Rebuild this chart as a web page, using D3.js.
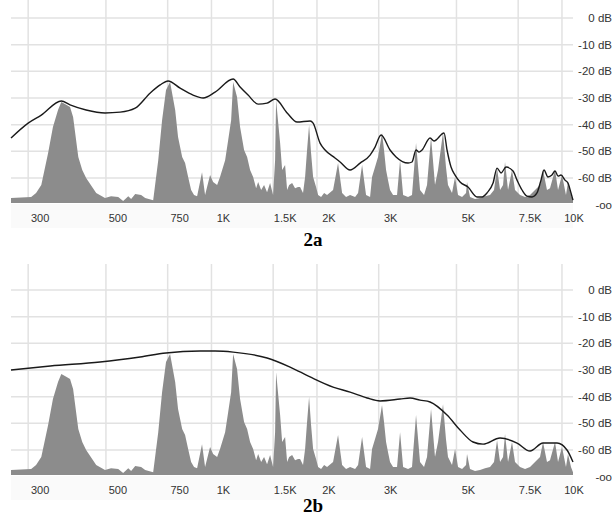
<!DOCTYPE html>
<html>
<head>
<meta charset="utf-8">
<script src="https://cdn.jsdelivr.net/npm/d3@7"></script>
<style>
  body { margin: 0; background: #fff; }
  svg { display: block; }
  .tick-label { font-family: "Liberation Sans", Arial, sans-serif; font-size: 11px; fill: #333; }
  .y-label { font-size: 11.5px; }
  .caption { font-family: "Liberation Serif", "Times New Roman", serif; font-size: 19px; font-weight: bold; fill: #000; }
</style>
</head>
<body>
<div id="chart"></div>
<script>
// ---------- data ----------
const xTicks = [300, 500, 750, 1000, 1500, 2000, 3000, 5000, 7500, 10000];
const xTickLabels = ["300", "500", "750", "1K", "1.5K", "2K", "3K", "5K", "7.5K", "10K"];
const yTicks = [0, -10, -20, -30, -40, -50, -60];
const yTickLabels = ["0 dB", "-10 dB", "-20 dB", "-30 dB", "-40 dB", "-50 dB", "-60 dB"];
const floorLabel = "-oo";

// spectrum (same in both panels)
const specHz = [268, 306, 316, 327, 342, 353, 365, 373, 383, 395, 403, 417, 428, 439, 469, 497, 517, 542, 560, 579,
  590, 606, 630, 647, 682, 705, 723, 742, 762, 788, 803, 825, 841, 858, 875, 892, 910, 940, 959, 991,
  1011, 1038, 1058, 1094, 1116, 1138, 1153, 1183, 1207, 1239, 1264, 1289, 1315, 1341, 1359, 1386, 1413, 1441, 1470, 1499,
  1519, 1529, 1570, 1591, 1622, 1644, 1666, 1699, 1732, 1766, 1790, 1825, 1850, 1874, 1899, 1924, 1950, 1988, 2015, 2055,
  2096, 2137, 2223, 2297, 2359, 2421, 2486, 2569, 2620, 2690, 2761, 2835, 2872, 2929, 2987, 3027, 3066, 3107, 3149, 3190,
  3232, 3297, 3384, 3452, 3522, 3638, 3734, 3834, 3936, 4041, 4121, 4231, 4343, 4430, 4578, 4667, 4730, 4856, 4954, 5052,
  5187, 5325, 5359, 5466, 5648, 5837, 6032, 6233, 6399, 6528, 6658, 6790, 6879, 7016, 7203, 7346, 7592, 7846, 8107, 8378,
  8657, 8829, 9063, 9243, 9554, 9744, 10002, 10267, 10403, 10610, 10751];
const specDb = [-67.5, -67.1, -65.6, -62.6, -50.6, -40.9, -34.5, -31.5, -32.3, -33.4, -37.1, -52.1, -57, -60, -65.6, -67.5, -66.8, -67.1, -68.6, -66.8,
  -67.9, -66, -66.4, -67.5, -68.3, -53.3, -38.3, -27, -24, -34.5, -44.6, -52.1, -54.4, -59.6, -64.5, -66.4, -66.8, -57.8, -66.4, -58.9,
  -61.5, -62.6, -59.6, -53.3, -45.8, -38.3, -24, -29.6, -40.9, -49.5, -52.1, -57, -59.6, -63.8, -61.5, -64.5, -62.6, -65.3, -61.9, -66.4,
  -53.3, -30.8, -46.9, -57, -55.1, -64.5, -62.6, -61.9, -63.8, -63.4, -63.4, -65.6, -59.6, -49.5, -40.1, -50.6, -59.6, -63.4, -66.4, -67.1,
  -65.6, -66.4, -64.5, -54.4, -65.6, -67.1, -66.4, -67.1, -65.6, -55.1, -66.4, -67.1, -59.6, -55.9, -52.1, -47.6, -43.1, -49.5, -57, -60.8,
  -64.5, -66.4, -66.4, -53.3, -66.4, -67.1, -66.4, -46.9, -64.5, -66.4, -62.6, -44.6, -62.6, -57, -42.8, -55.9, -62.6, -65.6, -59.6, -66.4,
  -67.1, -65.6, -61.5, -67.1, -67.9, -67.5, -66.8, -66.4, -64.5, -56.3, -64.5, -62.6, -54, -64.5, -57, -64.5, -66.4, -67.1, -66.4, -64.5,
  -62.6, -57, -64.5, -63.8, -57, -64.5, -58.9, -66.4, -61.5, -66.4, -68.3];

// envelope 2a
const envAHz = [268, 300, 327, 373, 395, 439, 497, 549, 606, 669, 714, 752, 814, 886, 947, 1024, 1153, 1207, 1272,
  1359, 1441, 1519, 1644, 1755, 1912, 1950, 2041, 2109, 2252, 2328, 2486, 2655, 2835, 2929, 3047, 3232, 3363, 3638, 3734,
  3834, 3910, 3989, 4204, 4315, 4608, 4700, 4825, 4954, 5120, 5394, 5723, 5915, 6111, 6359, 6528, 6702, 6926, 7250, 7444,
  7692, 7948, 8212, 8486, 8713, 8886, 9122, 9362, 9554, 9744, 9937, 10199, 10403, 10610, 10751];
const envADb = [-45, -39.4, -36.4, -31.1, -32.6, -34.5, -35.6, -35.3, -33.8, -28.1, -25.1, -23.6, -26.3, -28.9, -30, -27.8, -22.9, -25.9, -28.9,
  -32.3, -31.9, -30.4, -35.6, -39, -38.6, -39.4, -46.9, -49.5, -52.5, -54, -57, -54.4, -51.4, -48.4, -43.9, -49.5, -52.1, -54.4, -54,
  -49.5, -50.3, -49.5, -45, -46.1, -43.1, -49.5, -55.9, -58.9, -61.5, -63.4, -67.1, -67.1, -65.6, -61.9, -56.3, -58.1, -55.9, -57.4, -60.8,
  -64.5, -66.8, -67.1, -65.6, -60.8, -57, -59.6, -58.9, -57.4, -59.3, -58.9, -60.8, -61.9, -65.6, -68.3];

// envelope 2b
const envBHz = [268, 347, 481, 626, 742, 928, 1024, 1153, 1441, 1676, 1912, 2223, 2486, 2780, 3027, 3452, 3686, 3936, 4204, 4700,
  5120, 5575, 5955, 6658, 7444, 8107, 8829, 9680, 10335, 10751];
const envBDb = [-30, -28.5, -27, -25.1, -23.6, -22.9, -22.9, -23.3, -25.5, -28.9, -32.6, -36.4, -38.3, -40.5, -41.6, -40.9, -40.5, -41.3, -42, -46.9,
  -52.5, -57, -57.8, -55.5, -57.4, -60.4, -57.4, -57.4, -60, -64.5];

const captions = ["2a", "2b"];

// ---------- layout ----------
const W = 613, H = 517;
const left = 11, right = 573;
const floorDb = -69.4;

const svg = d3.select("#chart").append("svg")
  .attr("width", W)
  .attr("height", H);

const x = d3.scaleLog().domain([268, 10751]).range([left, right]);
const y = d3.scaleLinear().domain([0, -60]).range([18, 178]);

const spectrum = specHz.map((f, i) => ({ f: f, db: specDb[i] }));
const envA = envAHz.map((f, i) => ({ f: f, db: envADb[i] }));
const envB = envBHz.map((f, i) => ({ f: f, db: envBDb[i] }));

function drawPanel(offsetY, top, envelope, caption, captionY) {
  const g = svg.append("g").attr("transform", "translate(0," + offsetY + ")");
  const base = y(floorDb);

  // label band
  g.append("rect")
    .attr("x", left).attr("y", base + 1)
    .attr("width", right - left).attr("height", 24)
    .attr("fill", "#fafafa");

  // vertical grid
  g.append("g").selectAll("line")
    .data(xTicks).enter().append("line")
    .attr("x1", d => x(d)).attr("x2", d => x(d))
    .attr("y1", top).attr("y2", base)
    .attr("stroke", "#e2e2e2").attr("stroke-width", 1.5);

  // horizontal grid
  g.append("g").selectAll("line")
    .data(yTicks).enter().append("line")
    .attr("x1", left).attr("x2", right)
    .attr("y1", d => y(d)).attr("y2", d => y(d))
    .attr("stroke", "#e2e2e2").attr("stroke-width", 1.5);

  // spectrum area
  const area = d3.area()
    .x(d => x(d.f))
    .y0(base)
    .y1(d => y(d.db));
  g.append("path")
    .datum(spectrum)
    .attr("d", area)
    .attr("fill", "#8c8c8c");

  // envelope
  const line = d3.line()
    .x(d => x(d.f))
    .y(d => y(d.db))
    .curve(d3.curveMonotoneX);
  g.append("path")
    .datum(envelope)
    .attr("d", line)
    .attr("fill", "none")
    .attr("stroke", "#1a1a1a")
    .attr("stroke-width", 1.4);

  // x labels
  g.append("g").selectAll("text")
    .data(xTicks).enter().append("text")
    .attr("class", "tick-label")
    .attr("x", d => x(d) + 12)
    .attr("y", base + 19)
    .attr("text-anchor", "middle")
    .text((d, i) => xTickLabels[i]);

  // y labels
  g.append("g").selectAll("text")
    .data(yTicks).enter().append("text")
    .attr("class", "tick-label y-label")
    .attr("x", 612)
    .attr("y", d => y(d) + 4)
    .attr("text-anchor", "end")
    .text((d, i) => yTickLabels[i]);
  g.append("text")
    .attr("class", "tick-label y-label")
    .attr("x", 612)
    .attr("y", base + 6)
    .attr("text-anchor", "end")
    .text(floorLabel);

  // caption
  g.append("text")
    .attr("class", "caption")
    .attr("x", 313)
    .attr("y", captionY)
    .attr("text-anchor", "middle")
    .text(caption);
}

drawPanel(0, -8, envA, captions[0], 246);
drawPanel(272, -8, envB, captions[1], 240);
</script>
</body>
</html>
